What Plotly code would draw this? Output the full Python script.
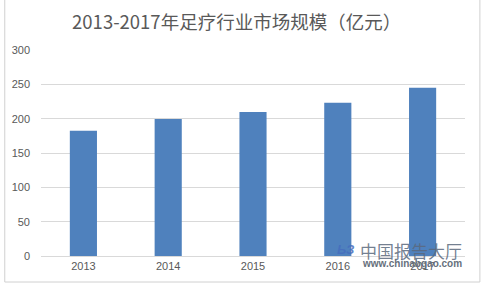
import plotly.graph_objects as go

years = ["2013", "2014", "2015", "2016", "2017"]
values = [182.5, 199.5, 209.7, 223.3, 245.0]
y_ticks = [0, 50, 100, 150, 200, 250, 300]

title_text = "2013-2017年足疗行业市场规模（亿元）"

fig = go.Figure()
fig.add_trace(go.Bar(
    x=years, y=values,
    marker=dict(color="#4f81bd", line=dict(width=0)),
    hoverinfo="x+y",
))

W, H = 482, 288
L, R, T, B = 38, 17, 50, 32
pw, ph = W - L - R, H - T - B

def px_x(p):
    return (p - L) / pw

def px_y(p):
    return 1 - (p - T) / ph

fig.update_layout(
    width=W, height=H,
    margin=dict(l=L, r=R, t=T, b=B),
    paper_bgcolor="white", plot_bgcolor="white",
    bargap=0.68,
    showlegend=False,
    font=dict(family="Liberation Sans, Noto Sans CJK SC", color="#595959", size=11),
    title=dict(
        text=title_text,
        x=px_x(235), xref="paper", xanchor="center",
        y=1 - 23 / H, yref="container", yanchor="middle",
        font=dict(family="Noto Sans CJK SC", size=18.5, color="#595959"),
    ),
    xaxis=dict(
        type="category", showgrid=False, zeroline=False,
        showline=True, linecolor="#d9d9d9", linewidth=1,
        ticks="", tickfont=dict(size=11, color="#595959"),
        fixedrange=True,
    ),
    yaxis=dict(
        range=[0, 300], tickvals=y_ticks,
        showgrid=True, gridcolor="#d9d9d9", gridwidth=1,
        zeroline=False, showline=False, ticks="",
        tickfont=dict(size=11, color="#595959"),
        ticklabelstandoff=10,
        fixedrange=True,
    ),
)

# outer chart border
fig.add_shape(
    type="rect", xref="paper", yref="paper",
    x0=px_x(1.5), x1=px_x(480), y0=px_y(282), y1=px_y(-2),
    line=dict(color="#d0d0d0", width=1), fillcolor="rgba(0,0,0,0)",
    layer="below",
)

# watermark
fig.add_annotation(
    text="中国报告大厅", xref="paper", yref="paper",
    x=px_x(411), y=px_y(250), xanchor="center", yanchor="middle",
    showarrow=False,
    font=dict(family="Noto Sans CJK SC", size=17, color="rgba(90,105,125,0.85)"),
)
fig.add_annotation(
    text="<b>www.chinabgao.com</b>", xref="paper", yref="paper",
    x=px_x(412), y=px_y(263.5), xanchor="center", yanchor="middle",
    showarrow=False,
    font=dict(family="Liberation Sans", size=10, color="#66707c"),
)
fig.add_annotation(
    text="<i><b>ЬЗ</b></i>", xref="paper", yref="paper",
    x=px_x(345), y=px_y(249), xanchor="center", yanchor="middle",
    showarrow=False,
    font=dict(family="Liberation Sans", size=13, color="rgba(70,110,190,0.85)"),
)

fig.write_html("out.html", config={"displayModeBar": False})
